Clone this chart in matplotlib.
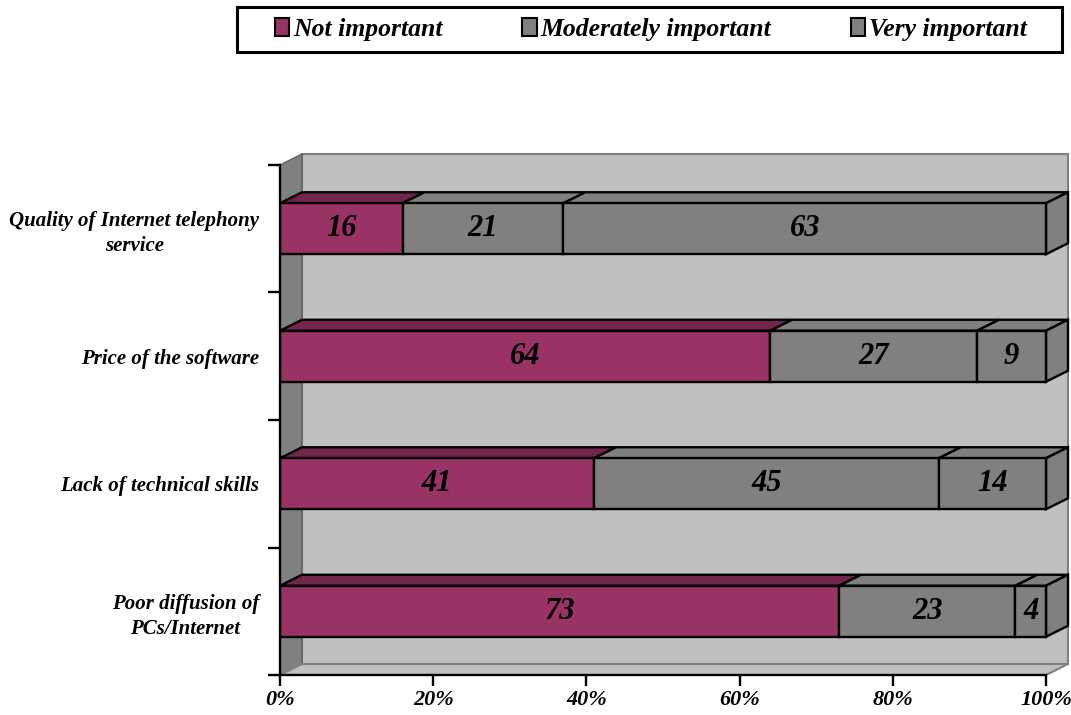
import numpy as np
import matplotlib.pyplot as plt
from matplotlib.patches import Polygon, Patch, Rectangle

# survey answers, bottom category first
categories = ["Poor diffusion of\nPCs/Internet", "Lack of technical skills",
              "Price of the software", "Quality of Internet telephony\nservice"]
not_important = [73, 41, 64, 16]
moderately_important = [23, 45, 27, 21]
very_important = [4, 14, 9, 63]
series_names = ["Not important", "Moderately important", "Very important"]
xticks = [0, 20, 40, 60, 80, 100]
xticklabels = ["0%", "20%", "40%", "60%", "80%", "100%"]

front_cols = ["#993366", "#808080", "#808080"]
top_cols = ["#73264d", "#808080", "#808080"]

plt.rcParams['font.family'] = ['Liberation Serif', 'DejaVu Serif']
plt.rcParams['font.weight'] = 'bold'
plt.rcParams['font.style'] = 'italic'

fig = plt.figure(figsize=(10.71, 7.15), dpi=100)
ax = fig.add_axes([280/1071, 40/715, 790/1071, 525/715])
ax.set_xlim(0, 790/7.66)
ax.set_ylim(0, 525/127.5)

# depth of the fake 3d
dx = 22/7.66
dy = 11/127.5
ncat = len(categories)

# walls and floor
ax.add_patch(Polygon([(dx, dy), (100+dx, dy), (100+dx, ncat+dy), (dx, ncat+dy)],
                     closed=True, facecolor="#c0c0c0", edgecolor="#808080", lw=1.5, zorder=1))
ax.add_patch(Polygon([(0, 0), (dx, dy), (dx, ncat+dy), (0, ncat)],
                     closed=True, facecolor="#808080", edgecolor="#606060", lw=1, zorder=1))
ax.add_patch(Polygon([(0, 0), (100, 0), (100+dx, dy), (dx, dy)],
                     closed=True, facecolor="#c0c0c0", edgecolor="#808080", lw=1.5, zorder=1))

series = [not_important, moderately_important, very_important]
h = 0.4
for i in range(ncat):
    yc = i + 0.5
    y0 = yc - h/2
    y1 = yc + h/2
    left = 0
    for s in range(3):
        v = series[s][i]
        ax.barh(yc, v, left=left, height=h, color=front_cols[s], edgecolor="black", lw=1.7, zorder=3)
        ax.add_patch(Polygon([(left, y1), (left+v, y1), (left+v+dx, y1+dy), (left+dx, y1+dy)],
                             closed=True, facecolor=top_cols[s], edgecolor="black", lw=1.7, zorder=2))
        ax.text(left + v/2, yc, str(v), ha="center", va="center", fontsize=22, zorder=4)
        left += v
    # right side of the last block
    ax.add_patch(Polygon([(left, y0), (left+dx, y0+dy), (left+dx, y1+dy), (left, y1)],
                         closed=True, facecolor=front_cols[2], edgecolor="black", lw=1.7, zorder=2))

for sp in ["top", "right"]:
    ax.spines[sp].set_visible(False)
ax.spines["bottom"].set_bounds(0, 100)
ax.spines["left"].set_bounds(0, ncat)
ax.spines["bottom"].set_linewidth(1.7)
ax.spines["left"].set_linewidth(1.7)
ax.spines["bottom"].set_zorder(5)
ax.spines["left"].set_zorder(5)

ax.set_xticks(xticks)
ax.set_xticklabels(xticklabels, fontsize=16)
ax.tick_params(axis="x", direction="out", length=8, width=1.7, pad=3)
ax.set_yticks(range(ncat+1))
ax.set_yticklabels([])
ax.tick_params(axis="y", which="major", direction="out", length=9, width=1.7)
ax.set_yticks(np.arange(ncat) + 0.5, minor=True)
ax.set_yticklabels(categories, minor=True, fontsize=15, multialignment="center", linespacing=1.35)
ax.tick_params(axis="y", which="minor", length=0, pad=15)

# legend: frame drawn separately so its size matches
fig.patches.append(Rectangle((237/1071, 1-52/715), 825/1071, 45/715, transform=fig.transFigure,
                             facecolor="white", edgecolor="black", lw=2.2, zorder=0))
handles = [Patch(facecolor=front_cols[k], edgecolor="black", lw=1.5) for k in range(3)]
leg = fig.legend(handles, series_names, loc="center", ncol=3,
                 bbox_to_anchor=(651/1071, 1-29.5/715),
                 fontsize=18.5, frameon=False, columnspacing=3.1,
                 handlelength=0.55, handleheight=0.7, handletextpad=0.15, borderaxespad=0)

fig.savefig("out.png", dpi=100)
